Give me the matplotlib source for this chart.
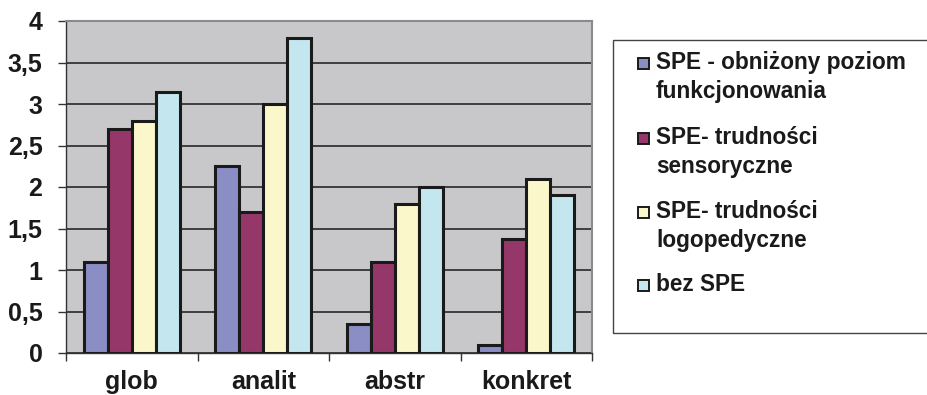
import matplotlib
matplotlib.use("Agg")
import matplotlib.pyplot as plt
from matplotlib.patches import Rectangle
import numpy as np

categories = ["glob", "analit", "abstr", "konkret"]
series_names = [
    "SPE - obniżony poziom\nfunkcjonowania",
    "SPE- trudności\nsensoryczne",
    "SPE- trudności\nlogopedyczne",
    "bez SPE",
]
values = [
    [1.10, 2.25, 0.35, 0.10],
    [2.70, 1.70, 1.10, 1.37],
    [2.80, 3.00, 1.80, 2.10],
    [3.15, 3.80, 2.00, 1.90],
]
colors = ["#8B8DC5", "#963769", "#FAF8CA", "#C3E6EF"]
y_ticks = [0, 0.5, 1, 1.5, 2, 2.5, 3, 3.5, 4]
y_tick_labels = ["0", "0,5", "1", "1,5", "2", "2,5", "3", "3,5", "4"]

W, H = 927, 395
plt.rcParams["font.family"] = ["Liberation Sans", "DejaVu Sans"]
plt.rcParams["font.weight"] = "bold"

fig = plt.figure(figsize=(W / 100, H / 100), dpi=100)
fig.patch.set_facecolor("white")

def fx(px):
    return px / W

def fy(py):
    return 1 - py / H

ax = fig.add_axes([fx(66), fy(353), fx(592) - fx(66), fy(21) - fy(353)])
ax.set_facecolor("#C8C8CA")

x = np.arange(len(categories))
bar_w = 0.1825
for i, (vals, col) in enumerate(zip(values, colors)):
    ax.bar(x + (i - 1.5) * bar_w, vals, width=bar_w, color=col,
           edgecolor="#1a1a1a", linewidth=2.2, zorder=3)

ax.set_xlim(-0.5, len(categories) - 0.5)
ax.set_ylim(0, 4)
ax.set_yticks(y_ticks)
ax.set_yticklabels(y_tick_labels, fontsize=18, fontweight="bold", color="#1a1a1a")
ax.yaxis.grid(True, color="#1a1a1a", linewidth=1.1, zorder=1)
ax.set_axisbelow(True)

ax.set_xticks(x)
ax.set_xticklabels(categories, fontsize=18, fontweight="bold", color="#1a1a1a")
ax.tick_params(axis="x", length=0, pad=12)
ax.set_xticks(np.arange(-0.5, len(categories)), minor=True)
ax.tick_params(axis="x", which="minor", length=6, width=1.0, color="#333333", direction="out")
ax.tick_params(axis="y", length=6, width=1.0, color="#333333", direction="out", pad=11)

for side in ["left", "bottom"]:
    ax.spines[side].set_color("#333333")
    ax.spines[side].set_linewidth(1.0)
for side in ["top", "right"]:
    ax.spines[side].set_color("#8a8a8a")
    ax.spines[side].set_linewidth(1.5)

# Legend box and entries
fig.add_artist(Rectangle((fx(613), fy(333)), fx(960) - fx(613), fy(40) - fy(333),
                         transform=fig.transFigure, facecolor="white",
                         edgecolor="#444444", linewidth=1.0))
entry_tops = [63, 138, 212, 285]
for name, col, ty in zip(series_names, colors, entry_tops):
    fig.add_artist(Rectangle((fx(638), fy(ty + 6)), fx(11), 11 / H,
                             transform=fig.transFigure, facecolor=col,
                             edgecolor="#1a1a1a", linewidth=1.4))
    fig.text(fx(656), fy(ty - 12), name, fontsize=16.3, fontweight="bold",
             va="top", ha="left", linespacing=1.32, color="#1a1a1a")

fig.savefig("out.png", dpi=100)
